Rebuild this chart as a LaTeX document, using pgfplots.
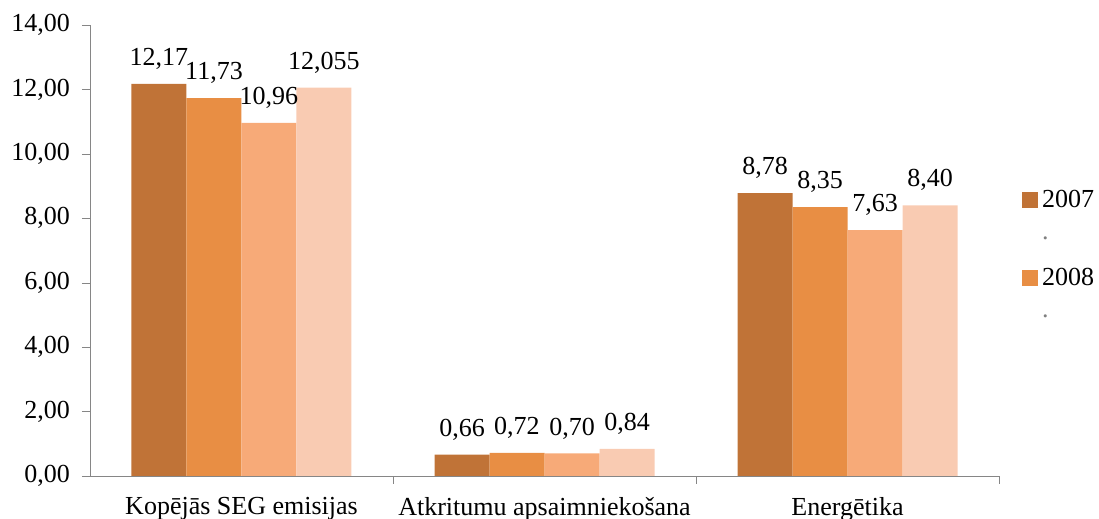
\documentclass[border=0pt]{standalone}
\usepackage{fontspec}
\setmainfont{Liberation Serif}
\usepackage{pgfplots}
\pgfplotsset{compat=1.18}
\usepackage{pgfplotstable}
\definecolor{c1}{HTML}{C07337}
\definecolor{c2}{HTML}{E88E44}
\definecolor{c3}{HTML}{F7AA78}
\definecolor{c4}{HTML}{F9CBB2}
\definecolor{axisgray}{HTML}{868686}
\pgfplotstableread{
x y lab
0 12.17 12,17
1 0.66 0,66
2 8.78 8,78
}\sA
\pgfplotstableread{
x y lab
0 11.73 11,73
1 0.72 0,72
2 8.35 8,35
}\sB
\pgfplotstableread{
x y lab
0 10.96 10,96
1 0.70 0,70
2 7.63 7,63
}\sC
\pgfplotstableread{
x y lab
0 12.055 12,055
1 0.84 0,84
2 8.40 8,40
}\sD
\begin{document}
\begin{tikzpicture}
\begin{axis}[
  scale only axis, width=454.5pt, height=225.5pt,
  ybar=0pt, bar width=27.5pt,
  xmin=-0.5, xmax=2.5, ymin=0, ymax=14,
  axis x line*=bottom, axis y line*=left,
  axis line style={draw=axisgray},
  tick style={draw=axisgray},
  tick align=outside,
  major tick length=4pt,
  xtick={0,1,2},
  xticklabels={Kopējās SEG emisijas, Atkritumu apsaimniekošana, Energētika},
  x tick style={draw=none},
  extra x ticks={0.5,1.5,2.5},
  extra x tick labels={},
  extra x tick style={x tick style={draw=axisgray}},
  ytick={0,2,...,14},
  ticklabel style={font=\fontsize{13}{15}\selectfont},
  x tick label style={yshift=-3pt},
  y tick label style={xshift=-2.5pt, /pgf/number format/.cd, fixed, fixed zerofill, precision=2, use comma, assume math mode=true},
  point meta=explicit symbolic,
  nodes near coords={\pgfplotspointmeta},
  nodes near coords style={font=\fontsize{13}{15}\selectfont, anchor=south, inner sep=2pt, yshift=5pt},
  legend style={at={(1.025,0.49)}, anchor=west, draw=none, fill=none,
    font=\fontsize{13}{15}\selectfont, row sep=9pt, inner sep=0pt,
    cells={anchor=west}},
]
\addplot[fill=c1, draw=none, legend image code/.code={\fill[c1] (0pt,-4pt) rectangle (8pt,4pt);}] table[x=x, y=y, meta=lab] {\sA};
\addlegendentry{2007}
\addplot[fill=c2, draw=none, legend image code/.code={}] table[x=x, y=y, meta=lab] {\sB};
\addlegendentry{\textcolor{gray}{.}}
\addplot[fill=c3, draw=none, legend image code/.code={\fill[c2] (0pt,-4pt) rectangle (8pt,4pt);}] table[x=x, y=y, meta=lab] {\sC};
\addlegendentry{2008}
\addplot[fill=c4, draw=none, legend image code/.code={}] table[x=x, y=y, meta=lab] {\sD};
\addlegendentry{\textcolor{gray}{.}}
\end{axis}
\pgfresetboundingbox
\path[use as bounding box] ([xshift=-45pt,yshift=-21.5pt]current axis.south west) rectangle ([xshift=50pt,yshift=12.5pt]current axis.north east);
\end{tikzpicture}
\end{document}
